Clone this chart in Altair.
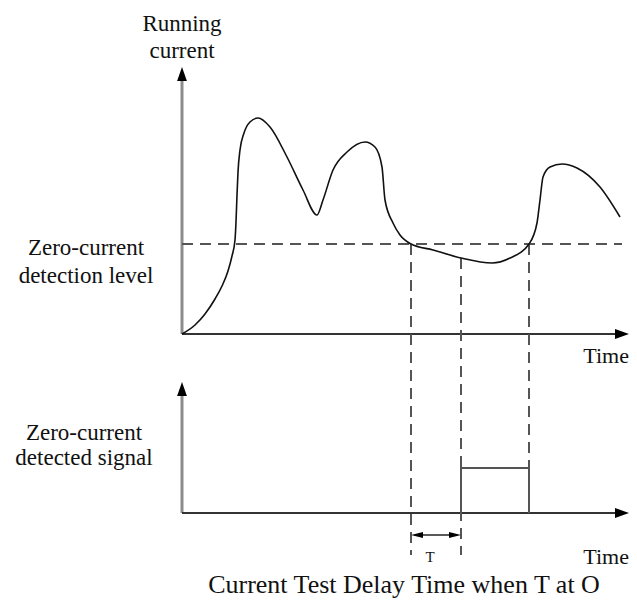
import altair as alt
import pandas as pd

# ---- data (diagram units: t = time from origin, v = current / signal level) ----
curve_t = [0, 13, 23, 33, 40, 46, 50, 53, 54, 55, 56, 58, 62, 68, 76, 88, 105, 121, 135, 141,
           151, 165, 183, 193, 200, 203, 211, 218, 229, 251, 279, 310, 328, 347, 355, 358, 361,
           368, 380, 395, 418, 438]
curve_v = [0, 9, 20, 35, 48, 63, 78, 94, 112, 139, 162, 184, 201, 212, 216, 207, 177, 144, 119, 134,
           164, 182, 192, 187, 167, 134, 111, 99, 90, 84, 76, 71, 76, 90, 111, 134, 157,
           167, 170, 166, 147, 117]

detect_level = 90          # zero-current detection level
t_cross = 229              # current falls below detection level
t_delay_end = 279          # end of delay T
t_rise = 347               # current rises above detection level
signal_base = -179         # baseline of the detected-signal axis
signal_high = -134         # detected signal "on" level
t_axis_end = 440
v_axis_top = 260
v_signal_axis_top = -55
dash_bottom = -221
t_arrow_level = -201

texts = ["Running", "current", "Zero-current", "detection level", "Zero-current", "detected signal",
         "Time", "Time", "T", "Current Test Delay Time when T at O"]
text_t = [0, 0, -96, -96, -98, -98, 447, 447, 248, 222]
text_v = [303, 276, 79, 51, -106, -131, -29, -230, -228, -259]
text_size = [23, 23, 23, 23, 23, 23, 22, 22, 15, 26]
text_align = ["center"] * 6 + ["right", "right"] + ["center"] * 2

# ---- tables ----
x_scale = alt.Scale(domain=[-174, 447], nice=False, zero=False)
y_scale = alt.Scale(domain=[-266, 326], nice=False, zero=False)
X = lambda f: alt.X(f, type="quantitative", scale=x_scale, axis=None)
Y = lambda f: alt.Y(f, type="quantitative", scale=y_scale, axis=None)

curve_df = pd.DataFrame({"t": curve_t, "v": curve_v})

vaxes = pd.DataFrame({"t": [0, 0], "v": [0, signal_base],
                      "t2": [0, 0], "v2": [v_axis_top - 7, v_signal_axis_top - 7]})
haxes = pd.DataFrame({"t": [0, 0], "v": [0, signal_base],
                      "t2": [t_axis_end - 5, t_axis_end - 5], "v2": [0, signal_base]})
dashed = pd.DataFrame({
    "t": [0, t_cross, t_delay_end, t_rise],
    "v": [detect_level, detect_level, 76, detect_level],
    "t2": [t_axis_end, t_cross, t_delay_end, t_rise],
    "v2": [detect_level, dash_bottom, dash_bottom, signal_high],
})
pulse = pd.DataFrame({"t": [t_delay_end, t_delay_end, t_rise, t_rise],
                      "v": [signal_base, signal_high, signal_high, signal_base],
                      "o": [0, 1, 2, 3]})
t_arrow = pd.DataFrame({"t": [t_cross + 6], "v": [t_arrow_level], "t2": [t_delay_end - 6], "v2": [t_arrow_level]})

UP = "M0,-1L0.7,1L-0.7,1Z"
RIGHT = "M1,0L-1,-0.7L-1,0.7Z"
LEFT = "M-1,0L1,-0.5L1,0.5Z"
RIGHT_S = "M1,0L-1,-0.5L-1,0.5Z"
heads = pd.DataFrame({
    "t": [0, 0, t_axis_end, t_axis_end, t_cross + 6, t_delay_end - 6],
    "v": [v_axis_top, v_signal_axis_top, 0, signal_base, t_arrow_level, t_arrow_level],
    "shape": [UP, UP, RIGHT, RIGHT, LEFT, RIGHT_S],
    "size": [196, 196, 196, 196, 144, 144],
})
text_df = pd.DataFrame({"t": text_t, "v": text_v, "label": texts, "size": text_size, "align": text_align})

# ---- layers ----
vaxis_layer = alt.Chart(vaxes).mark_rule(color="#8c8c8c", strokeWidth=3).encode(
    x=X("t"), y=Y("v"), x2="t2", y2="v2")
haxis_layer = alt.Chart(haxes).mark_rule(color="#333333", strokeWidth=2).encode(
    x=X("t"), y=Y("v"), x2="t2", y2="v2")
dash_layer = alt.Chart(dashed).mark_rule(color="#555555", strokeWidth=2, strokeDash=[11, 7]).encode(
    x=X("t"), y=Y("v"), x2="t2", y2="v2")
pulse_layer = alt.Chart(pulse).mark_line(color="#555555", strokeWidth=2).encode(
    x=X("t"), y=Y("v"), order="o:Q")
curve_layer = alt.Chart(curve_df).mark_line(color="#111111", strokeWidth=1.6, interpolate="monotone").encode(
    x=X("t"), y=Y("v"))
tarrow_layer = alt.Chart(t_arrow).mark_rule(color="#222222", strokeWidth=1.5).encode(
    x=X("t"), y=Y("v"), x2="t2", y2="v2")
head_layer = alt.Chart(heads).mark_point(filled=True, color="#000000", opacity=1, strokeWidth=0).encode(
    x=X("t"), y=Y("v"),
    shape=alt.Shape("shape:N", scale=None),
    size=alt.Size("size:Q", scale=None))

text_layers = []
for al in ["center", "right"]:
    sub = text_df[text_df["align"] == al]
    text_layers.append(
        alt.Chart(sub).mark_text(font="Liberation Serif", color="#111111",
                                 align=al, baseline="alphabetic").encode(
            x=X("t"), y=Y("v"), text="label:N", size=alt.Size("size:Q", scale=None)))

chart = alt.layer(vaxis_layer, haxis_layer, dash_layer, pulse_layer, curve_layer,
                  tarrow_layer, head_layer, *text_layers).properties(
    width=621, height=592, padding=0,
    autosize=alt.AutoSizeParams(type="none"),
).configure_view(stroke=None)

chart.save("out.html", embed_options={"renderer": "svg", "actions": False})
